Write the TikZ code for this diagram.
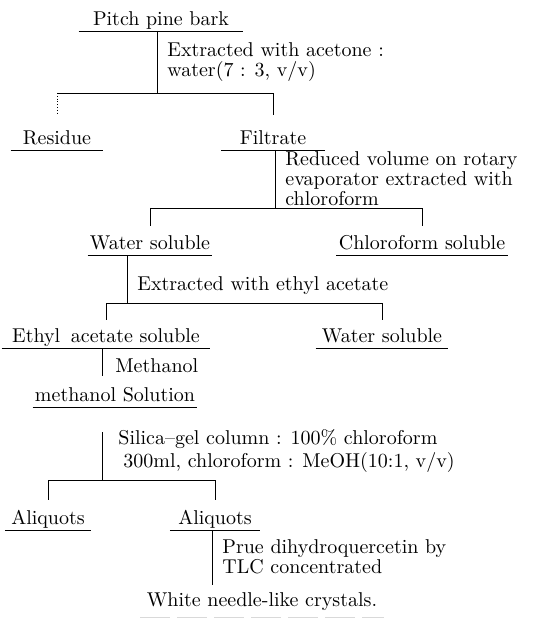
\documentclass[tikz,border=0pt]{standalone}
\usepackage{tikz}
\usetikzlibrary{calc}
\tikzset{
  stage/.style={anchor=south, inner xsep=3pt, inner ysep=0pt, text height=7.5pt, text depth=2.5pt},
  note/.style={anchor=north west, align=left, inner sep=0pt},
}

\begin{document}
\begin{tikzpicture}[x=0.5pt, y=-0.5pt, font=\fontsize{10}{10}\selectfont]
		\useasboundingbox (0,0) rectangle (558,620);
		
		%%%%% STAGES %%%%%
		\node[stage, inner xsep=7pt] (bark) at (161,31) {Pitch pine bark};
		\node[stage, inner xsep=6pt] (residue) at (57,150) {Residue};
		\node[stage, inner xsep=9pt] (filtrate) at (273,150) {Filtrate};
		\node[stage, inner xsep=1pt] (watA) at (150,255) {Water soluble};
		\node[stage, inner xsep=1pt] (chloro) at (422,255) {Chloroform soluble};
		\node[stage, inner xsep=5pt] (ethyl) at (106,348) {Ethyl\hspace{2pt} acetate soluble};
		\node[stage] (watB) at (382,348) {Water soluble};
		\node[stage, inner xsep=1pt] (solution) at (115,407) {methanol Solution};
		\node[stage] (aliqA) at (48,530) {Aliquots};
		\node[stage, inner xsep=4pt] (aliqB) at (215,530) {Aliquots};
		\node[stage] (crystals) at (262,612) {White needle-like crystals.};
		
		\foreach \n in {bark,residue,filtrate,watA,chloro,ethyl,watB,solution,aliqA,aliqB}
			\draw (\n.south west) -- (\n.south east);
		\draw[gray!30, dash pattern=on 15pt off 3.5pt] ($(crystals.south west)+(0,5)$) -- ($(crystals.south east)+(0,5)$);
		
		%%%%% STEPS %%%%%
		\node[note] (step1) at (167,42) {Extracted with acetone :\\water(7 : 3, v/v)};
		\node[note] (step2) at (285,151) {Reduced volume on rotary\\evaporator extracted with\\chloroform};
		\node[note] (step3) at (137,276) {Extracted with ethyl acetate};
		\node[note] (step4) at (115,358) {Methanol};
		\node[note] (step5) at (118,429) {Silica--gel column : 100\% chloroform\\[1.5pt]\hspace{2.5pt}300ml, chloroform : MeOH(10:1, v/v)};
		\node[note] (step6) at (222,539) {Prue dihydroquercetin by\\TLC concentrated};
		
		%%%%% SPLITS %%%%%
		\coordinate (split1) at (157,93);
		\draw (bark.south -| split1) -- (split1);
		\draw[densely dotted] (residue.north |- split1) -- ++(0,20);
		\draw (residue.north |- split1) -- (filtrate.north |- split1) -- ++(0,22);
		
		\coordinate (split2) at (275,208);
		\draw (filtrate.south -| split2) -- (split2);
		\draw (watA.north |- split2) -- ++(0,18);
		\draw (watA.north |- split2) -- (chloro.north |- split2) -- ++(0,18);
		
		\coordinate (split3) at (127,303);
		\draw (watA.south -| split3) -- (split3);
		\draw (ethyl.north |- split3) -- ++(0,17);
		\draw (ethyl.north |- split3) -- (watB.north |- split3) -- ++(0,17);
		
		\coordinate (split4) at (102,480);
		\draw (ethyl.south -| split4) -- ($(solution.north -| split4)+(0,-10)$);
		\draw ($(solution.south -| split4)+(0,25)$) -- (split4);
		\draw (aliqA.north |- split4) -- ++(0,20);
		\draw (aliqA.north |- split4) -- (aliqB.north |- split4) -- ++(0,20);
		
		\coordinate (split5) at (212,585);
		\draw (aliqB.south -| split5) -- (split5);
		
	\end{tikzpicture}
\end{document}
